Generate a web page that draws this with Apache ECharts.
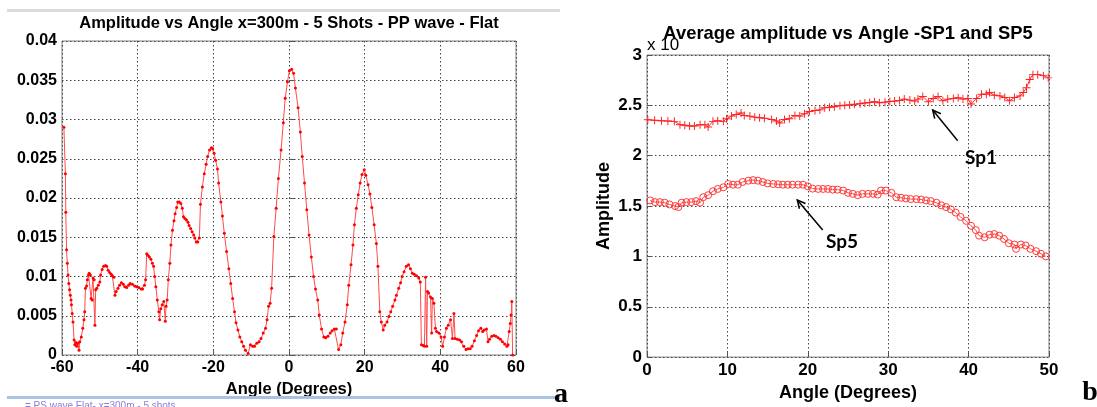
<!DOCTYPE html>
<html>
<head>
<meta charset="utf-8">
<title>Amplitude vs Angle</title>
<script src="https://cdn.jsdelivr.net/npm/echarts@6/dist/echarts.min.js"></script>
<style>
  html, body { margin: 0; padding: 0; background: #fff; }
  #chart { width: 1097px; height: 407px; }
</style>
</head>
<body>
<div id="chart"></div>
<script>
// panel a: amplitude vs angle, x=300m, 5 shots, PP wave [angle (deg), amplitude]
const ppFlat = [
  [-59.5,0.0290],[-59.1,0.0231],[-59.0,0.0182],[-58.8,0.0134],[-58.6,0.0117],[-58.4,0.0102],
  [-58.2,0.0091],[-58.0,0.0083],[-57.8,0.0076],[-57.6,0.0070],[-57.5,0.0064],[-57.3,0.0053],
  [-57.1,0.0042],[-56.8,0.0019],[-56.6,0.0013],[-56.3,0.0016],[-56.1,0.0011],[-55.8,0.0015],
  [-55.5,0.0006],[-55.3,0.0017],[-54.9,0.0023],[-54.5,0.0034],[-54.2,0.0045],[-54.0,0.0055],
  [-53.8,0.0085],[-53.5,0.0088],[-53.3,0.0096],[-53.0,0.0102],[-52.8,0.0104],[-52.5,0.0102],
  [-52.3,0.0072],[-52.0,0.0070],[-51.8,0.0098],[-51.5,0.0096],[-51.3,0.0038],[-51.1,0.0083],
  [-50.8,0.0085],[-50.4,0.0089],[-50.0,0.0093],[-49.8,0.0102],[-49.4,0.0109],[-49.0,0.0113],
  [-48.5,0.0114],[-48.2,0.0113],[-47.8,0.0108],[-47.4,0.0105],[-47.0,0.0103],[-46.7,0.0101],
  [-46.3,0.0099],[-46.0,0.0076],[-45.7,0.0081],[-45.2,0.0085],[-44.8,0.0089],[-44.3,0.0092],
  [-43.8,0.0090],[-43.4,0.0087],[-42.9,0.0086],[-42.4,0.0089],[-42.0,0.0091],[-41.4,0.0090],
  [-40.8,0.0088],[-40.3,0.0087],[-39.7,0.0086],[-39.1,0.0084],[-38.7,0.0084],[-38.2,0.0089],
  [-37.9,0.0096],[-37.6,0.0129],[-37.3,0.0127],[-36.9,0.0125],[-36.5,0.0122],[-36.1,0.0117],
  [-35.8,0.0113],[-35.5,0.0100],[-35.2,0.0087],[-34.8,0.0070],[-34.4,0.0055],[-34.2,0.0045],
  [-33.9,0.0059],[-33.5,0.0064],[-33.1,0.0068],[-32.7,0.0043],[-32.5,0.0062],[-32.2,0.0070],
  [-31.9,0.0096],[-31.5,0.0117],[-31.2,0.0140],[-30.8,0.0159],[-30.4,0.0171],[-30.1,0.0180],
  [-29.7,0.0188],[-29.4,0.0195],[-29.0,0.0195],[-28.6,0.0193],[-28.2,0.0187],[-27.9,0.0176],
  [-27.5,0.0174],[-27.1,0.0172],[-26.7,0.0169],[-26.4,0.0165],[-26.0,0.0161],[-25.6,0.0157],
  [-25.2,0.0153],[-24.9,0.0149],[-24.5,0.0144],[-24.1,0.0144],[-23.7,0.0149],[-23.4,0.0192],
  [-22.9,0.0214],[-22.4,0.0231],[-21.9,0.0243],[-21.5,0.0253],[-21.0,0.0261],[-20.5,0.0264],
  [-20.2,0.0263],[-19.8,0.0257],[-19.4,0.0248],[-18.9,0.0237],[-18.6,0.0219],[-18.0,0.0195],
  [-17.6,0.0177],[-17.1,0.0155],[-16.5,0.0132],[-15.9,0.0110],[-15.4,0.0091],[-14.9,0.0072],
  [-14.4,0.0055],[-14.0,0.0041],[-13.5,0.0032],[-13.0,0.0023],[-12.5,0.0017],[-12.0,0.0011],
  [-11.5,0.0006],[-10.8,0.0002],[-10.2,0.0013],[-9.6,0.0011],[-9.1,0.0011],[-8.5,0.0015],
  [-7.9,0.0017],[-7.4,0.0021],[-6.8,0.0028],[-6.2,0.0034],[-5.8,0.0045],[-5.4,0.0062],
  [-5.0,0.0066],[-4.6,0.0085],[-4.0,0.0151],[-3.4,0.0187],[-2.8,0.0225],[-2.1,0.0261],
  [-1.5,0.0296],[-1.0,0.0327],[-0.4,0.0348],[0.1,0.0362],[0.7,0.0364],[1.2,0.0359],
  [1.7,0.0340],[2.4,0.0315],[3.0,0.0284],[3.5,0.0253],[4.1,0.0219],[4.7,0.0185],
  [5.3,0.0153],[5.9,0.0125],[6.5,0.0100],[7.0,0.0084],[7.6,0.0070],[8.0,0.0051],
  [8.6,0.0033],[9.2,0.0023],[9.7,0.0022],[10.3,0.0024],[10.9,0.0028],[11.4,0.0031],
  [12.0,0.0033],[12.5,0.0033],[13.1,0.0007],[13.7,0.0013],[14.2,0.0028],[14.8,0.0042],
  [15.4,0.0064],[15.8,0.0089],[16.4,0.0115],[16.9,0.0140],[17.3,0.0166],[17.8,0.0187],
  [18.3,0.0204],[18.8,0.0219],[19.3,0.0230],[19.9,0.0236],[20.3,0.0229],[20.9,0.0217],
  [21.4,0.0205],[21.9,0.0188],[22.5,0.0166],[23.1,0.0142],[23.5,0.0113],[24.0,0.0055],
  [24.4,0.0042],[24.9,0.0032],[25.3,0.0038],[25.9,0.0042],[26.4,0.0049],[26.9,0.0055],
  [27.4,0.0062],[28.0,0.0070],[28.4,0.0076],[29.0,0.0085],[29.5,0.0092],[29.9,0.0100],
  [30.4,0.0106],[31.0,0.0113],[31.6,0.0115],[32.1,0.0110],[32.6,0.0104],[33.1,0.0103],
  [33.7,0.0101],[34.3,0.0098],[34.7,0.0093],[35.0,0.0013],[35.5,0.0012],[35.8,0.0011],
  [36.1,0.0099],[36.4,0.0011],[36.6,0.0081],[36.9,0.0079],[37.4,0.0074],[37.7,0.0028],
  [37.9,0.0072],[38.3,0.0066],[38.7,0.0034],[39.0,0.0030],[39.6,0.0028],[40.2,0.0023],
  [40.6,0.0011],[41.1,0.0023],[41.6,0.0034],[42.1,0.0038],[42.7,0.0045],[43.2,0.0021],
  [43.6,0.0053],[43.9,0.0021],[44.5,0.0020],[45.1,0.0019],[45.6,0.0017],[46.2,0.0011],
  [46.8,0.0007],[47.3,0.0008],[47.9,0.0008],[48.4,0.0011],[49.0,0.0018],[49.6,0.0025],
  [50.1,0.0031],[50.7,0.0034],[51.2,0.0030],[51.6,0.0032],[52.2,0.0033],[52.6,0.0017],
  [53.0,0.0020],[53.6,0.0024],[54.2,0.0025],[54.7,0.0024],[55.3,0.0022],[55.9,0.0020],
  [56.4,0.0017],[57.0,0.0014],[57.6,0.0011],[57.9,0.0013],[58.2,0.0030],[58.5,0.0040],
  [58.7,0.0051],[58.9,0.0068],[59.1,0.0]
];

// panel b: average amplitude (x 1e-3) vs angle
const sp1 = [
  [0.1,2.357],[0.95,2.351],[1.8,2.347],[2.6,2.344],[3.4,2.341],[4.1,2.308],[4.7,2.302],
  [5.3,2.295],[5.9,2.295],[6.6,2.308],[7.2,2.308],[7.6,2.286],[8.2,2.341],[8.8,2.347],
  [9.5,2.341],[9.9,2.367],[10.5,2.393],[11.1,2.409],[11.7,2.425],[12.1,2.399],[12.8,2.393],
  [13.4,2.383],[14.0,2.377],[14.6,2.373],[15.5,2.360],[16.1,2.344],[16.5,2.325],[17.1,2.360],
  [17.7,2.367],[18.4,2.399],[19.0,2.393],[19.6,2.416],[20.2,2.438],[20.9,2.448],[21.5,2.455],
  [22.1,2.477],[22.7,2.481],[23.3,2.487],[24.0,2.497],[24.6,2.500],[25.2,2.503],[25.8,2.510],
  [26.5,2.516],[27.1,2.523],[27.7,2.529],[28.3,2.536],[28.9,2.526],[29.6,2.532],[30.2,2.539],
  [30.8,2.542],[31.4,2.549],[32.0,2.562],[32.7,2.552],[33.3,2.542],[33.7,2.562],[34.3,2.588],
  [35.0,2.536],[35.6,2.568],[36.2,2.588],[36.8,2.545],[37.4,2.562],[38.1,2.568],[38.7,2.575],
  [39.3,2.562],[39.9,2.568],[40.3,2.513],[41.0,2.568],[41.6,2.610],[42.2,2.610],[42.6,2.627],
  [43.2,2.601],[43.9,2.594],[44.5,2.578],[45.1,2.545],[45.7,2.578],[46.4,2.594],[46.8,2.627],
  [47.2,2.675],[47.6,2.756],[48.0,2.805],[48.6,2.805],[49.3,2.795],[49.9,2.773]
];
const sp5 = [
  [0.4,1.556],[1.0,1.539],[1.6,1.539],[2.2,1.533],[2.8,1.516],[3.5,1.500],[3.9,1.490],
  [4.3,1.533],[4.9,1.539],[5.5,1.539],[6.1,1.549],[6.6,1.533],[7.0,1.588],[7.6,1.608],
  [8.2,1.647],[8.8,1.670],[9.5,1.686],[10.1,1.719],[10.7,1.712],[11.3,1.712],[11.9,1.739],
  [12.6,1.752],[13.2,1.758],[13.8,1.752],[14.4,1.739],[15.0,1.725],[15.7,1.719],[16.3,1.716],
  [16.9,1.712],[17.5,1.712],[18.1,1.712],[18.8,1.712],[19.4,1.712],[20.0,1.696],[20.6,1.673],
  [21.3,1.670],[21.9,1.670],[22.5,1.670],[23.1,1.663],[23.7,1.663],[24.4,1.654],[25.0,1.631],
  [25.6,1.621],[26.2,1.608],[26.8,1.621],[27.5,1.621],[28.1,1.621],[28.7,1.614],[29.1,1.654],
  [29.7,1.654],[30.4,1.631],[31.0,1.588],[31.6,1.582],[32.2,1.575],[32.8,1.569],[33.5,1.569],
  [34.1,1.565],[34.7,1.556],[35.3,1.549],[36.0,1.533],[36.6,1.507],[37.2,1.490],[37.8,1.467],
  [38.4,1.435],[39.0,1.392],[39.7,1.353],[40.3,1.304],[40.9,1.261],[41.3,1.206],[42.0,1.190],
  [42.6,1.216],[43.2,1.222],[43.8,1.206],[44.4,1.173],[45.0,1.131],[45.7,1.118],[45.9,1.075],
  [46.5,1.118],[47.1,1.108],[47.7,1.075],[48.4,1.052],[49.0,1.026],[49.6,1.000]
];

const titleA = 'Amplitude vs Angle x=300m - 5 Shots - PP wave - Flat';
const titleB = 'Average amplitude vs Angle -SP1 and SP5';

const SANS = '"Liberation Sans", Arial, sans-serif';
const RED = '#ff0000';
const tickFmt = v => String(+v.toFixed(4));

function xAxisOf(grid, min, max, step, fontSize, nameSize, nameGap) {
  return {
    type: 'value', gridIndex: grid, min, max, interval: step,
    name: 'Angle (Degrees)', nameLocation: 'middle', nameGap,
    nameTextStyle: { fontFamily: SANS, fontWeight: 'bold', fontSize: nameSize, color: '#000' },
    axisLine: { show: false },
    axisTick: { show: true, inside: true, length: 5, lineStyle: { color: '#555' } },
    axisLabel: { fontFamily: SANS, fontWeight: 'bold', fontSize, color: '#000', margin: 5, formatter: tickFmt },
    splitLine: { show: true, lineStyle: { color: '#444', type: [1.5, 2.5], width: 1 } }
  };
}
function yAxisOf(grid, min, max, step, fontSize, extra) {
  return Object.assign({
    type: 'value', gridIndex: grid, min, max, interval: step,
    axisLine: { show: false },
    axisTick: { show: true, inside: true, length: 5, lineStyle: { color: '#555' } },
    axisLabel: { fontFamily: SANS, fontWeight: 'bold', fontSize, color: '#000', margin: 5, formatter: tickFmt },
    splitLine: { show: true, lineStyle: { color: '#444', type: [1.5, 2.5], width: 1 } }
  }, extra || {});
}

// thin "+" marker like matlab's
const plusPath = 'path://M4.4,0H5.6V4.4H10V5.6H5.6V10H4.4V5.6H0V4.4H4.4Z';

const chart = echarts.init(document.getElementById('chart'));
chart.setOption({
  animation: false,
  backgroundColor: '#fff',
  grid: [
    { left: 62, top: 41, width: 454, height: 314, show: true, borderColor: '#808080', borderWidth: 1 },
    { left: 647, top: 55, width: 402, height: 308, show: true, borderColor: '#808080', borderWidth: 1 }
  ],
  xAxis: [
    xAxisOf(0, -60, 60, 20, 16, 16.5, 22),
    xAxisOf(1, 0, 50, 10, 17, 18, 23)
  ],
  yAxis: [
    yAxisOf(0, 0, 0.04, 0.005, 16),
    yAxisOf(1, 0, 3, 0.5, 17, {
      name: 'Amplitude', nameLocation: 'middle', nameGap: 34, nameRotate: 90,
      nameTextStyle: { fontFamily: SANS, fontWeight: 'bold', fontSize: 18, color: '#000' }
    })
  ],
  series: [
    {
      type: 'line', xAxisIndex: 0, yAxisIndex: 0, data: ppFlat,
      symbol: 'circle', symbolSize: 3, showAllSymbol: true,
      lineStyle: { color: '#ff4a4a', width: 1 },
      itemStyle: { color: RED }
    },
    {
      type: 'line', xAxisIndex: 1, yAxisIndex: 1, data: sp1,
      symbol: plusPath, symbolSize: 8, showAllSymbol: true,
      lineStyle: { color: '#ff2a2a', width: 1 },
      itemStyle: { color: '#ff2020' }
    },
    {
      type: 'line', xAxisIndex: 1, yAxisIndex: 1, data: sp5,
      symbol: 'circle', symbolSize: 7, showAllSymbol: true,
      lineStyle: { color: '#ff5050', width: 1 },
      itemStyle: { color: 'rgba(255,255,255,0)', borderColor: '#ff3a3a', borderWidth: 1 }
    }
  ],
  graphic: [
    // screenshot chrome around panel a
    { type: 'rect', shape: { x: 7, y: 9, width: 553, height: 3 }, style: { fill: '#dcdcdc' }, z: 1 },
    { type: 'rect', shape: { x: 7, y: 396, width: 553, height: 3 }, style: { fill: '#a9c4e0' }, z: 1 },
    { type: 'text', x: 25, y: 401, style: { text: '= PS wave Flat- x=300m - 5 shots', fontSize: 10, fontFamily: SANS, fill: '#8a7fd8' }, z: 1 },
    // exponent label (partly hidden by the title)
    { type: 'text', x: 647, y: 45, style: { text: 'x 10', fontSize: 17, fontFamily: SANS, fill: '#000', verticalAlign: 'middle' }, z: 1 },
    // titles
    { type: 'text', x: 289, y: 23, style: { text: titleA, fontSize: 16.5, fontWeight: 'bold', fontFamily: SANS, fill: '#000', align: 'center', verticalAlign: 'middle' }, z: 10 },
    { type: 'text', x: 848, y: 34, style: { text: titleB, fontSize: 18.4, fontWeight: 'bold', fontFamily: SANS, fill: '#000', align: 'center', verticalAlign: 'middle' }, z: 10 },
    // annotations
    { type: 'line', shape: { x1: 957.7, y1: 140.7, x2: 932.7, y2: 110 }, style: { stroke: '#000', lineWidth: 1.5 }, z: 10 },
    { type: 'polyline', shape: { points: [[940.9, 113.7], [932.7, 110], [934.7, 118.7]] }, style: { stroke: '#000', lineWidth: 1.5, fill: null }, z: 10 },
    { type: 'text', x: 981, y: 158, style: { text: 'Sp1', fontSize: 19, fontWeight: 'bold', fontFamily: 'Lato, "Open Sans", sans-serif', fill: '#000', align: 'center', verticalAlign: 'middle' }, z: 10 },
    { type: 'line', shape: { x1: 822.7, y1: 230, x2: 797.3, y2: 200 }, style: { stroke: '#000', lineWidth: 1.5 }, z: 10 },
    { type: 'polyline', shape: { points: [[805.5, 203.5], [797.3, 200], [799.4, 208.7]] }, style: { stroke: '#000', lineWidth: 1.5, fill: null }, z: 10 },
    { type: 'text', x: 842, y: 242, style: { text: 'Sp5', fontSize: 19, fontWeight: 'bold', fontFamily: 'Lato, "Open Sans", sans-serif', fill: '#000', align: 'center', verticalAlign: 'middle' }, z: 10 },
    // panel letters
    { type: 'text', x: 561, y: 395, style: { text: 'a', fontSize: 28, fontWeight: 'bold', fontFamily: '"Liberation Serif", serif', fill: '#000', align: 'center', verticalAlign: 'middle' }, z: 10 },
    { type: 'text', x: 1090, y: 393, style: { text: 'b', fontSize: 28, fontWeight: 'bold', fontFamily: '"Liberation Serif", serif', fill: '#000', align: 'center', verticalAlign: 'middle' }, z: 10 }
  ]
});
</script>
</body>
</html>
